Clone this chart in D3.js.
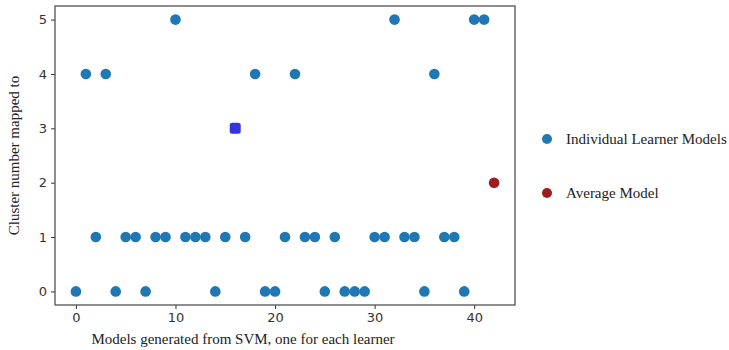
<!DOCTYPE html>
<style>
body { margin: 0; background: #fff; }
svg { display: block; }
.tick text { font: 13px "DejaVu Sans", sans-serif; fill: #333; }
.tick line { stroke: #333; }
.lbl { font: 15px "Liberation Serif", serif; fill: #222; }
</style>
<svg width="729" height="350"></svg>
<script src="https://d3js.org/d3.v7.min.js"></script>
<script>

// learner index -> cluster it mapped to
var learners = d3.range(0, 42);
var clusters = [0,4,1,4,0,1,1,0,1,1,5,1,1,1,0,1,3,1,4,0,0,1,4,1,1,0,1,0,0,0,1,1,5,1,1,0,4,1,1,0,5,5];
var highlightIdx = 16;
var avgModel = [42, 2];
var xTicks = [0, 10, 20, 30, 40];
var yTicks = [0, 1, 2, 3, 4, 5];
var legendItems = ["Individual Learner Models", "Average Model"];

var blue = "#1f77b4", red = "#9e1b1e", purple = "#3434dc";

var svg = d3.select("svg");
var mLeft = 55, mRight = 515, mTop = 6, mBottom = 305;

var x = d3.scaleLinear().domain([-2.1, 44.1]).range([mLeft, mRight]);
var y = d3.scaleLinear().domain([-0.25, 5.25]).range([mBottom, mTop]);

svg.append("g")
    .attr("transform", "translate(0," + mBottom + ")")
    .call(d3.axisBottom(x).tickValues(xTicks).tickFormat(d3.format("d")).tickSize(4).tickPadding(4))
    .select(".domain").remove();

svg.append("g")
    .attr("transform", "translate(" + mLeft + ",0)")
    .call(d3.axisLeft(y).tickValues(yTicks).tickFormat(d3.format("d")).tickSize(4).tickPadding(4))
    .select(".domain").remove();

svg.append("rect")
    .attr("x", mLeft).attr("y", mTop)
    .attr("width", mRight - mLeft).attr("height", mBottom - mTop)
    .attr("fill", "none").attr("stroke", "#444").attr("stroke-width", 1.2);

// individual learners
svg.append("g").selectAll("circle")
    .data(learners.filter(function(d) { return d != highlightIdx; }))
    .enter().append("circle")
    .attr("cx", function(d) { return x(d); })
    .attr("cy", function(d) { return y(clusters[d]); })
    .attr("r", 5.3)
    .attr("fill", blue);

// highlighted one
svg.append("rect")
    .attr("x", x(highlightIdx) - 5.5).attr("y", y(clusters[highlightIdx]) - 5.5)
    .attr("width", 11).attr("height", 11).attr("rx", 2.5)
    .attr("fill", purple);

svg.append("circle")
    .attr("cx", x(avgModel[0])).attr("cy", y(avgModel[1]))
    .attr("r", 5.3).attr("fill", red);

svg.append("text").attr("class", "lbl")
    .attr("transform", "translate(19," + (mTop + mBottom) / 2 + ") rotate(-90)")
    .attr("text-anchor", "middle")
    .text("Cluster number mapped to");

svg.append("text").attr("class", "lbl")
    .attr("x", 243).attr("y", 344)
    .attr("text-anchor", "middle")
    .text("Models generated from SVM, one for each learner");

var lg = svg.append("g").selectAll("g")
    .data(legendItems)
    .enter().append("g")
    .attr("transform", function(d, i) { return "translate(547," + (139 + i * 54) + ")"; });

lg.append("circle").attr("r", 5)
    .attr("fill", function(d, i) { return i == 0 ? blue : red; });
lg.append("text").attr("class", "lbl")
    .attr("x", 19).attr("y", 5)
    .text(function(d) { return d; });

</script>
